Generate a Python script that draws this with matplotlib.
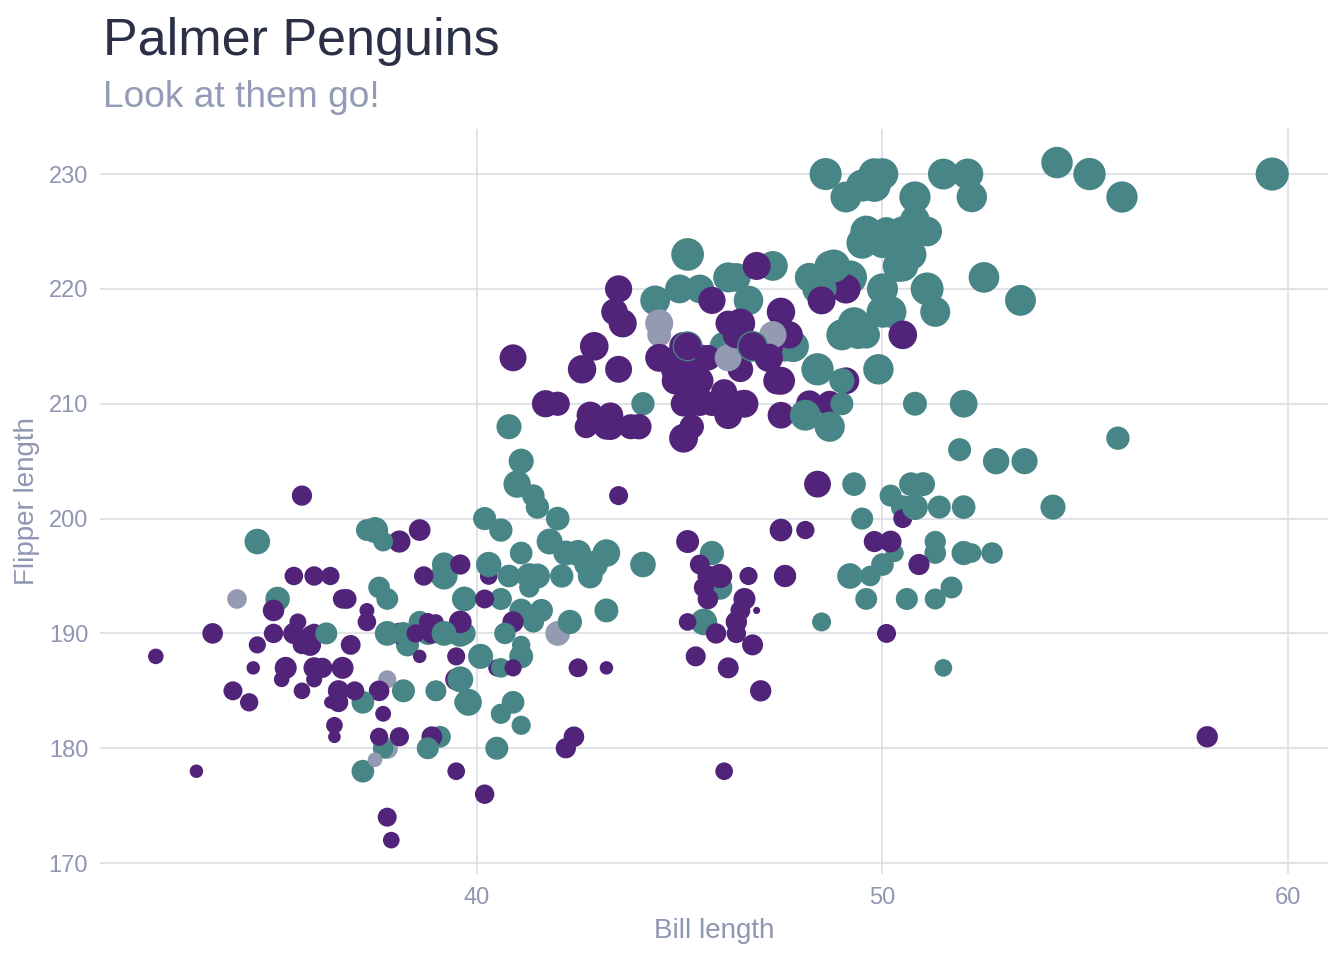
import numpy as np
import matplotlib
matplotlib.use("Agg")
import matplotlib.pyplot as plt

# ---------------- data (Adelie, Gentoo, Chinstrap; order as drawn) ----------------
adelie_bill = [39.1, 39.5, 40.3, 36.7, 39.3, 38.9, 39.2, 34.1, 42.0, 37.8,
               37.8, 41.1, 38.6, 34.6, 36.6, 38.7, 42.5, 34.4, 46.0, 37.8,
               37.7, 35.9, 38.2, 38.8, 35.3, 40.6, 40.5, 37.9, 40.5, 39.5,
               37.2, 39.5, 40.9, 36.4, 39.2, 38.8, 42.2, 37.6, 39.8, 36.5,
               40.8, 36.0, 44.1, 37.0, 39.6, 41.1, 37.5, 36.0, 42.3, 39.6,
               40.1, 35.0, 42.0, 34.5, 41.4, 39.0, 40.6, 36.5, 37.6, 35.7,
               41.3, 37.6, 41.1, 36.4, 41.6, 35.5, 41.1, 35.9, 41.8, 33.5,
               39.7, 39.6, 45.8, 35.5, 42.8, 40.9, 37.2, 36.2, 42.1, 34.6,
               42.9, 36.7, 35.1, 37.3, 41.3, 36.3, 36.9, 38.3, 38.9, 35.7,
               41.1, 34.0, 39.6, 36.2, 40.8, 38.1, 40.3, 33.1, 43.2, 35.0,
               41.0, 37.7, 37.8, 37.9, 39.7, 38.6, 38.2, 38.1, 43.2, 38.1,
               45.6, 39.7, 42.2, 39.6, 42.7, 38.6, 37.3, 35.7, 41.1, 36.2,
               37.7, 40.2, 41.4, 35.2, 40.6, 38.8, 41.5, 39.0, 44.1, 38.5,
               43.1, 36.8, 37.5, 38.1, 41.1, 35.6, 40.2, 37.0, 39.7, 40.2,
               40.6, 32.1, 40.7, 37.3, 39.0, 39.2, 36.6, 36.0, 37.8, 36.0,
               41.5]
adelie_flipper = [181, 186, 195, 193, 190, 181, 195, 193, 190, 186,
                  180, 182, 191, 198, 185, 195, 197, 184, 194, 174,
                  180, 189, 185, 180, 187, 183, 187, 172, 180, 178,
                  178, 188, 184, 195, 196, 190, 180, 181, 184, 182,
                  195, 186, 196, 185, 190, 182, 179, 190, 191, 186,
                  188, 190, 200, 187, 191, 185, 193, 181, 194, 185,
                  195, 185, 192, 184, 192, 195, 188, 190, 198, 190,
                  190, 196, 197, 190, 195, 191, 184, 187, 195, 189,
                  196, 187, 193, 191, 194, 190, 189, 189, 190, 202,
                  205, 185, 186, 187, 208, 190, 196, 178, 192, 192,
                  203, 183, 190, 193, 184, 199, 190, 181, 197, 198,
                  191, 193, 197, 191, 196, 188, 199, 189, 189, 187,
                  198, 176, 202, 186, 199, 191, 195, 191, 210, 190,
                  197, 193, 199, 181, 197, 191, 200, 185, 193, 193,
                  187, 188, 190, 192, 185, 190, 184, 195, 193, 187,
                  201]
adelie_mass = [3750, 3800, 3250, 3450, 3650, 3625, 4675, 3475, 4250, 3300,
               3700, 3200, 3800, 4400, 3700, 3450, 4500, 3325, 4200, 3400,
               3600, 3800, 3950, 3800, 3800, 3550, 3200, 3150, 3950, 3250,
               3900, 3300, 3900, 3325, 4150, 3950, 3550, 3300, 4650, 3150,
               3900, 3100, 4400, 3000, 4600, 3425, 2975, 3450, 4150, 3500,
               4300, 3450, 4050, 2900, 3700, 3550, 3800, 2850, 3750, 3150,
               4400, 3600, 4050, 2850, 3950, 3350, 4100, 3050, 4450, 3600,
               3900, 3550, 4150, 3700, 4250, 3700, 3900, 3550, 4000, 3200,
               4700, 3800, 4200, 3350, 3550, 3800, 3500, 3950, 3600, 3550,
               4300, 3400, 4450, 3300, 4300, 3700, 4350, 2900, 4100, 3725,
               4725, 3075, 4250, 2925, 3550, 3750, 3900, 3175, 4775, 3825,
               4600, 3200, 4275, 3900, 4075, 2900, 3775, 3350, 3325, 3150,
               3500, 3450, 3875, 3050, 4000, 3275, 4300, 3050, 4000, 3325,
               3500, 3500, 4475, 3425, 3900, 3175, 3975, 3400, 4250, 3400,
               3475, 3050, 3725, 3000, 3650, 4250, 3475, 3450, 3750, 3700,
               4000]
adelie_sex = ["M", "F", "F", "F", "M", "F", "M", "NA", "NA", "NA",
              "NA", "F", "M", "M", "F", "F", "M", "F", "M", "F",
              "M", "F", "M", "M", "F", "M", "F", "F", "M", "F",
              "M", "F", "M", "F", "M", "M", "F", "F", "M", "F",
              "M", "F", "M", "F", "M", "M", "NA", "F", "M", "F",
              "M", "F", "M", "F", "M", "F", "M", "F", "M", "F",
              "M", "F", "M", "F", "M", "F", "M", "F", "M", "F",
              "M", "F", "M", "F", "M", "F", "M", "F", "M", "F",
              "M", "F", "M", "F", "M", "M", "F", "M", "F", "F",
              "M", "F", "M", "F", "M", "F", "M", "F", "M", "F",
              "M", "F", "M", "F", "M", "F", "M", "F", "M", "F",
              "M", "F", "M", "F", "M", "F", "M", "F", "M", "F",
              "M", "F", "M", "F", "M", "F", "M", "F", "M", "F",
              "M", "F", "M", "F", "M", "F", "M", "F", "M", "F",
              "M", "F", "M", "F", "M", "M", "F", "F", "M", "F",
              "M"]

gentoo_bill = [46.1, 50.0, 48.7, 50.0, 47.6, 46.5, 45.4, 46.7, 43.3, 46.8,
               40.9, 49.0, 45.5, 48.4, 45.8, 49.3, 42.0, 49.2, 46.2, 48.7,
               50.2, 45.1, 46.5, 46.3, 42.9, 46.1, 44.5, 47.8, 48.2, 50.0,
               47.3, 42.8, 45.1, 59.6, 49.1, 48.4, 42.6, 44.4, 44.0, 48.7,
               42.7, 49.6, 45.3, 49.6, 50.5, 43.6, 45.5, 50.5, 44.9, 45.2,
               46.6, 48.5, 45.1, 50.1, 46.5, 45.0, 43.8, 45.5, 43.2, 50.4,
               45.3, 46.2, 45.7, 54.3, 45.8, 49.8, 46.2, 49.5, 43.5, 50.7,
               47.7, 46.4, 48.2, 46.5, 46.4, 48.6, 47.5, 51.1, 45.2, 45.2,
               49.1, 52.5, 47.4, 50.0, 44.9, 50.8, 43.4, 51.3, 47.5, 52.1,
               47.5, 52.2, 45.5, 49.5, 44.5, 50.8, 49.4, 46.9, 48.4, 51.1,
               48.5, 55.9, 47.2, 49.1, 47.3, 46.8, 41.7, 53.4, 43.3, 48.1,
               50.5, 49.8, 43.5, 51.5, 46.2, 55.1, 44.5, 48.8, 47.2, 46.8,
               50.4, 45.2, 49.9]
gentoo_flipper = [211, 230, 210, 218, 215, 210, 211, 219, 209, 215,
                  214, 216, 214, 213, 210, 217, 210, 221, 209, 222,
                  218, 215, 213, 215, 215, 215, 216, 215, 210, 220,
                  222, 209, 207, 230, 220, 220, 213, 219, 208, 208,
                  208, 225, 210, 216, 222, 217, 210, 225, 213, 215,
                  210, 220, 210, 225, 217, 220, 208, 220, 208, 224,
                  208, 221, 214, 231, 219, 230, 214, 229, 220, 223,
                  216, 221, 221, 217, 216, 230, 209, 220, 215, 223,
                  212, 221, 212, 224, 212, 228, 218, 218, 212, 230,
                  218, 228, 212, 224, 214, 226, 216, 222, 203, 225,
                  219, 228, 215, 228, 216, 215, 210, 219, 208, 209,
                  216, 229, 213, 230, 217, 230, 217, 222, 214, 215,
                  222, 212, 213]
gentoo_mass = [4500, 5700, 4450, 5700, 5400, 4550, 4800, 5200, 4400, 5150,
               4650, 5550, 4650, 5850, 4200, 5850, 4150, 6300, 4800, 5350,
               5700, 5000, 4400, 5050, 5000, 5100, 4100, 5650, 4600, 5550,
               5250, 4700, 5050, 6050, 5150, 5400, 4950, 5250, 4350, 5350,
               3950, 5700, 4300, 4750, 5550, 4900, 4200, 5400, 5100, 5300,
               4850, 5300, 4400, 5000, 4900, 5050, 4300, 5000, 4450, 5550,
               4200, 5300, 4400, 5650, 4700, 5700, 4650, 5800, 4700, 5550,
               4750, 5000, 5100, 5200, 4700, 5800, 4600, 6000, 4750, 5950,
               4625, 5450, 4725, 5350, 4750, 5600, 4600, 5300, 4875, 5550,
               4950, 5400, 4750, 5650, 4850, 5200, 4925, 4875, 4625, 5250,
               4850, 5600, 4975, 5500, 4725, 5500, 4700, 5500, 4575, 5500,
               5000, 5950, 4650, 5500, 4375, 5850, 4875, 6000, 4925, 4850,
               5750, 5200, 5400]
gentoo_sex = ["F", "M", "F", "M", "M", "F", "F", "M", "F", "M",
              "F", "M", "F", "M", "F", "M", "F", "M", "F", "M",
              "M", "F", "F", "M", "F", "M", "NA", "M", "F", "M",
              "M", "F", "F", "M", "F", "M", "F", "M", "F", "M",
              "F", "M", "F", "M", "M", "F", "F", "M", "F", "M",
              "F", "M", "F", "M", "F", "M", "F", "M", "F", "M",
              "F", "M", "F", "M", "F", "M", "NA", "M", "F", "M",
              "F", "M", "M", "F", "F", "M", "F", "M", "F", "M",
              "F", "M", "F", "M", "F", "M", "F", "M", "F", "M",
              "F", "M", "F", "M", "F", "M", "M", "F", "F", "M",
              "F", "M", "F", "M", "NA", "M", "F", "M", "F", "M",
              "F", "M", "F", "M", "F", "M", "NA", "M", "F", "F",
              "M", "F", "M"]

chinstrap_bill = [46.5, 50.0, 51.3, 45.4, 52.7, 45.2, 46.1, 51.3, 46.0, 51.3,
                  46.6, 51.7, 47.0, 52.0, 45.9, 50.5, 50.3, 58.0, 46.4, 49.2,
                  42.4, 48.5, 43.2, 50.6, 46.7, 52.0, 50.5, 49.5, 46.4, 52.8,
                  40.9, 54.2, 42.5, 51.0, 49.7, 47.5, 47.6, 52.0, 46.9, 53.5,
                  49.0, 46.2, 50.9, 45.5, 50.9, 50.8, 50.1, 49.0, 51.5, 49.8,
                  48.1, 51.4, 45.7, 50.7, 42.5, 52.2, 45.2, 49.3, 50.2, 45.6,
                  51.9, 46.8, 45.7, 55.8, 43.5, 49.6, 50.8, 50.2]
chinstrap_flipper = [192, 196, 193, 188, 197, 198, 178, 197, 195, 198,
                     193, 194, 185, 201, 190, 201, 197, 181, 190, 195,
                     181, 191, 187, 193, 195, 197, 200, 200, 191, 205,
                     187, 201, 187, 203, 195, 199, 195, 210, 192, 205,
                     210, 187, 196, 196, 196, 201, 190, 212, 187, 198,
                     199, 201, 193, 203, 187, 197, 191, 203, 202, 194,
                     206, 189, 195, 207, 202, 193, 210, 198]
chinstrap_mass = [3500, 3900, 3650, 3525, 3725, 3950, 3250, 3750, 4150, 3700,
                  3800, 3775, 3700, 4050, 3575, 4050, 3300, 3700, 3450, 4400,
                  3600, 3400, 2900, 3800, 3300, 4150, 3400, 3800, 3700, 4550,
                  3200, 4300, 3350, 4100, 3600, 3900, 3850, 4800, 2700, 4500,
                  3950, 3650, 3550, 3500, 3675, 4450, 3400, 4300, 3250, 3675,
                  3325, 3950, 3600, 4050, 3350, 3450, 3250, 4050, 3800, 3525,
                  3950, 3650, 3650, 4000, 3400, 3775, 4100, 3775]
chinstrap_sex = ["F", "M", "M", "F", "M", "F", "F", "M", "F", "M",
                 "F", "M", "F", "M", "F", "M", "M", "F", "F", "M",
                 "F", "M", "F", "M", "F", "M", "F", "M", "F", "M",
                 "F", "M", "F", "M", "M", "F", "F", "M", "F", "M",
                 "M", "F", "M", "F", "F", "M", "F", "M", "M", "F",
                 "F", "M", "F", "M", "F", "M", "F", "M", "M", "F",
                 "M", "F", "F", "M", "F", "M", "M", "F"]

x_ticks = [40, 50, 60]
y_ticks = [170, 180, 190, 200, 210, 220, 230]
title = "Palmer Penguins"
subtitle = "Look at them go!"
x_label = "Bill length"
y_label = "Flipper length"

# ---------------- assemble ----------------
bill = np.array(adelie_bill + gentoo_bill + chinstrap_bill, dtype=float)
flipper = np.array(adelie_flipper + gentoo_flipper + chinstrap_flipper, dtype=float)
mass = np.array(adelie_mass + gentoo_mass + chinstrap_mass, dtype=float)
sex = np.array(adelie_sex + gentoo_sex + chinstrap_sex)
assert len(bill) == len(flipper) == len(mass) == len(sex)

color_map = {"F": "#51247A", "M": "#488586", "NA": "#959AB3"}
colors = [color_map[s] for s in sex]

# ggplot-like area size scale (range 1..6)
t = (mass - mass.min()) / (mass.max() - mass.min())
gg_size = 1 + 5 * np.sqrt(t)
diam_px = 1.89 * (2.845 * gg_size + 0.945)
diam_pt = diam_px * 0.72
s = diam_pt ** 2

# ---------------- figure ----------------
plt.rcParams["font.family"] = ["Liberation Sans", "DejaVu Sans"]
W, H = 1344, 960
fig = plt.figure(figsize=(W / 100, H / 100), dpi=100)
fig.patch.set_facecolor("white")

left, right, top, bottom = 100, 1328, 128.7, 874
ax = fig.add_axes([left / W, 1 - bottom / H, (right - left) / W, (bottom - top) / H])

grid_col = "#D9DBE3"
tick_col = "#8F96B2"

ax.scatter(bill, flipper, s=s, c=colors, linewidths=0, zorder=3)

ax.set_xlim(30.725, 60.975)
ax.set_ylim(169.05, 233.95)
ax.set_xticks(x_ticks)
ax.set_yticks(y_ticks)
ax.grid(True, color=grid_col, linewidth=1.1, zorder=0)
for sp in ax.spines.values():
    sp.set_visible(False)
ax.tick_params(axis="both", length=0, labelsize=17, labelcolor=tick_col)
ax.tick_params(axis="x", pad=9.5)
ax.tick_params(axis="y", pad=8.5)

fig.text(714 / W, 1 - 931 / H, x_label, ha="center", va="center",
         fontsize=20, color=tick_col)
fig.text(27 / W, 1 - 501 / H, y_label, ha="center", va="center",
         rotation=90, fontsize=20, color=tick_col)

fig.text(103 / W, 1 - 55 / H, title, ha="left", va="baseline",
         fontsize=37.5, color="#2B3047")
fig.text(103 / W, 1 - 107 / H, subtitle, ha="left", va="baseline",
         fontsize=26.7, color="#939CB6")

fig.savefig("out.png", dpi=100, facecolor="white")
